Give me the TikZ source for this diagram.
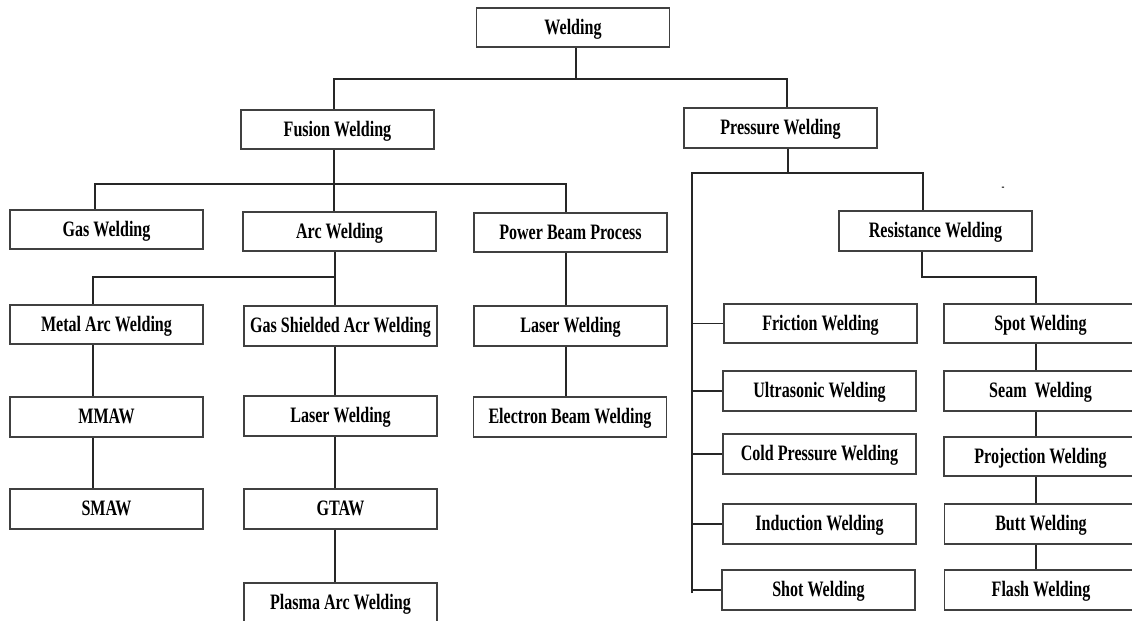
\documentclass[tikz,border=0pt]{standalone}
\usepackage{fontspec}
\setmainfont{Liberation Serif}[FakeStretch=0.73]
\begin{document}
\begin{tikzpicture}[x=0.5pt, y=-0.5pt,
  box/.style={draw=black!75, line width=0.85pt, minimum width=96.5pt, minimum height=19.75pt,
    inner sep=0pt, text height=9pt, text depth=2.2pt, font=\fontsize{11}{12}\selectfont\bfseries},
  link/.style={line width=0.7pt, black!85}]
\path[use as bounding box] (0,0) rectangle (1132,621);
\clip (0,0) rectangle (1132,621);
\node[box] (weld) at (573,27.5) {Welding};
\node[box] (fus) at (337.5,129.5) {Fusion Welding};
\node[box] (pres) at (780.5,128) {Pressure Welding};
\node[box] (gas) at (106.5,229.5) {Gas Welding};
\node[box] (arc) at (339.5,231.5) {Arc Welding};
\node[box] (pbp) at (570.5,232.5) {Power Beam Process};
\node[box] (res) at (935.5,231) {Resistance Welding};
\node[box] (mam) at (106.5,324.5) {Metal Arc Welding};
\node[box] (gsa) at (340.5,326) {Gas Shielded Acr Welding};
\node[box] (las1) at (570.5,326) {Laser Welding};
\node[box] (mmaw) at (106.5,417) {MMAW};
\node[box] (las2) at (340.5,416) {Laser Welding};
\node[box] (ebw) at (570,417) {Electron Beam Welding};
\node[box] (smaw) at (106.5,509) {SMAW};
\node[box] (gtaw) at (340.5,509) {GTAW};
\node[box] (plasma) at (340.5,602.5) {Plasma Arc Welding};
\node[box] (fric) at (820.5,323.5) {Friction Welding};
\node[box] (ultra) at (819.5,391) {Ultrasonic Welding};
\node[box] (cold) at (819.5,454) {Cold Pressure Welding};
\node[box] (ind) at (819.5,524) {Induction Welding};
\node[box] (shot) at (818.5,590) {Shot Welding};
\node[box] (spot) at (1040.5,323.5) {Spot Welding};
\node[box] (seam) at (1040.5,391) {Seam\ \ Welding};
\node[box] (proj) at (1040.5,456.5) {Projection Welding};
\node[box] (butt) at (1041,524) {Butt Welding};
\node[box] (flash) at (1041,590) {Flash Welding};
\node[font=\fontsize{6}{6}\selectfont\bfseries] (tick) at (1003,189) {-};
\coordinate (w0) at (576,79);
\coordinate (f0) at (334,79);
\coordinate (p0) at (787,79);
\coordinate (f1) at (334,184);
\coordinate (g1) at (95,184);
\coordinate (b1) at (566,184);
\coordinate (a2) at (335,277);
\coordinate (m2) at (93,277);
\coordinate (p1) at (788,173);
\coordinate (t1) at (692,173);
\coordinate (r1) at (923,173);
\coordinate (t2) at (692,593);
\coordinate (r2) at (922,277);
\coordinate (s2) at (1036,277);
\draw[link] (weld.south -| w0) -- (w0);
\draw[link] (fus.north -| f0) |- (p0) -- (pres.north -| p0);
\draw[link] (fus.south -| f1) -- (arc.north -| f1);
\draw[link] (gas.north -| g1) |- (b1) -- (pbp.north -| b1);
\draw[link] (arc.south -| a2) -- (gsa.north -| a2);
\draw[link] (mam.north -| m2) |- (a2);
\draw[link] (mam.south -| m2) -- (mmaw.north -| m2);
\draw[link] (mmaw.south -| m2) -- (smaw.north -| m2);
\draw[link] (gsa.south -| a2) -- (las2.north -| a2);
\draw[link] (las2.south -| a2) -- (gtaw.north -| a2);
\draw[link] (gtaw.south -| a2) -- (plasma.north -| a2);
\draw[link] (pbp.south -| b1) -- (las1.north -| b1);
\draw[link] (las1.south -| b1) -- (ebw.north -| b1);
\draw[link] (pres.south -| p1) -- (p1);
\draw[link] (t2) -- (t1) -- (r1) -- (res.north -| r1);
\draw[link] (fric.west -| t1) -- (fric.west);
\draw[link] (ultra.west -| t1) -- (ultra.west);
\draw[link] (cold.west -| t1) -- (cold.west);
\draw[link] (ind.west -| t1) -- (ind.west);
\draw[link] (shot.west -| t1) -- (shot.west);
\draw[link] (res.south -| r2) -- (r2) -| (spot.north -| s2);
\draw[link] (spot.south -| s2) -- (seam.north -| s2);
\draw[link] (seam.south -| s2) -- (proj.north -| s2);
\draw[link] (proj.south -| s2) -- (butt.north -| s2);
\draw[link] (butt.south -| s2) -- (flash.north -| s2);
\end{tikzpicture}
\end{document}
